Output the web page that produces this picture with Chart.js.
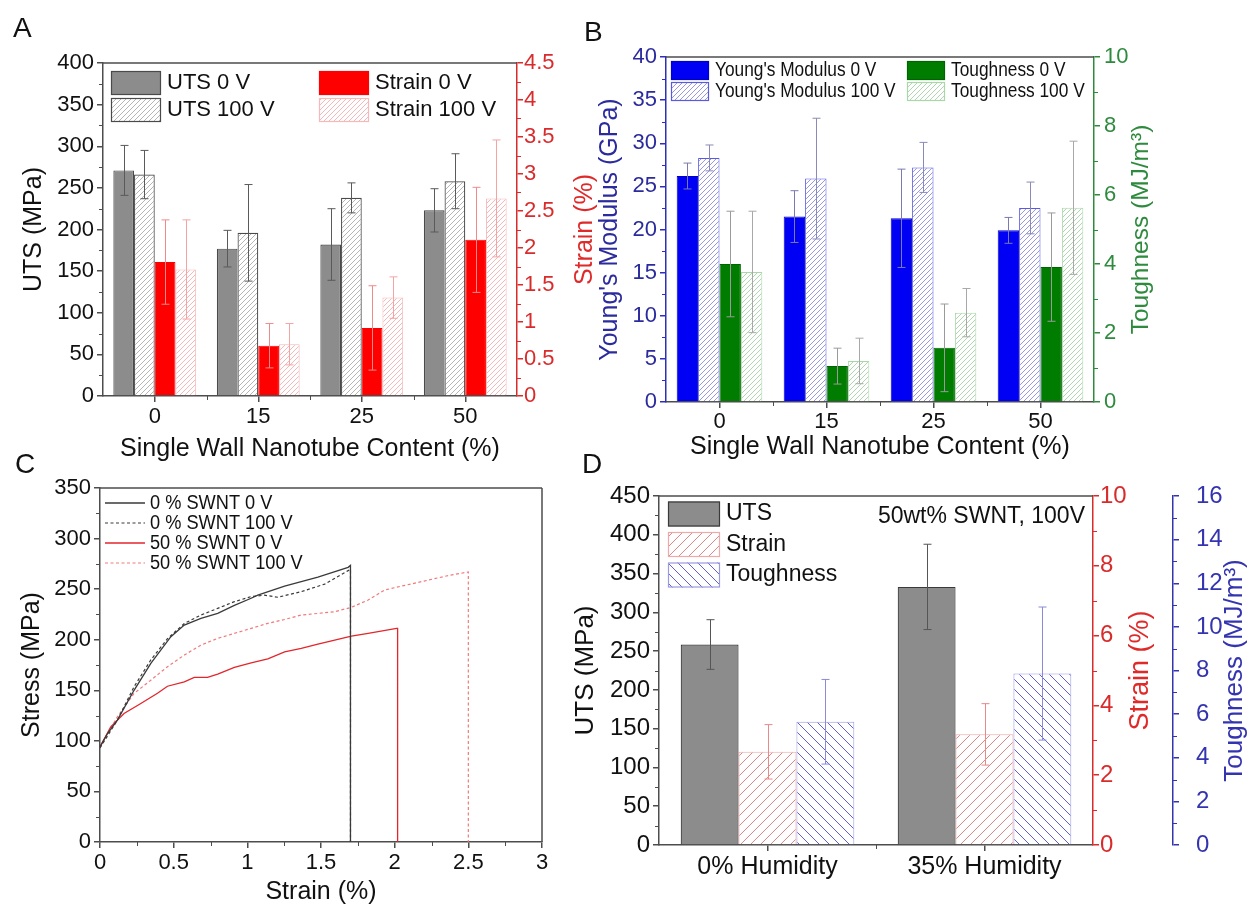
<!DOCTYPE html>
<html>
<head>
<meta charset="utf-8">
<title>SWNT fibre mechanics</title>
<script src="https://cdn.jsdelivr.net/npm/chart.js@4.4.1/dist/chart.umd.min.js"></script>
<style>
  body { margin: 0; background: #fff; font-family: "Liberation Sans", Arial, sans-serif; }
  #page { position: relative; width: 1252px; height: 907px; overflow: hidden; background: #fff; }
  canvas { position: absolute; }
  .panel { position: absolute; font-size: 28px; line-height: 28px; color: #111; }
</style>
</head>
<body>
<div id="page">
  <canvas id="chartA" width="620" height="470" style="left:0;top:0"></canvas>
  <canvas id="chartB" width="667" height="470" style="left:585px;top:0"></canvas>
  <canvas id="chartC" width="600" height="457" style="left:0;top:450px"></canvas>
  <canvas id="chartD" width="697" height="457" style="left:555px;top:450px"></canvas>
  <div class="panel" style="left:13px;top:14px">A</div>
  <div class="panel" style="left:584px;top:18px">B</div>
  <div class="panel" style="left:15px;top:450px">C</div>
  <div class="panel" style="left:582px;top:450px">D</div>
</div>
<script>
// SWNT loading (wt%) for panels A and B
const swntContent = ['0', '15', '25', '50'];

// A: ultimate tensile strength (MPa) and strain at break (%)
const utsOff = [271, 177, 182, 223];
const utsOffErr = [30, 22, 43, 26];
const utsOn = [266, 196, 238, 258];
const utsOnErr = [29, 58, 18, 33];
const strainOff = [1.81, 0.68, 0.92, 2.11];
const strainOffErr = [0.57, 0.30, 0.57, 0.71];
const strainOn = [1.71, 0.70, 1.33, 2.67];
const strainOnErr = [0.67, 0.28, 0.28, 0.79];

// B: Young's modulus (GPa) and toughness (MJ/m3)
const modulusOff = [26.2, 21.5, 21.3, 19.9];
const modulusOffErr = [1.5, 3.0, 5.7, 1.5];
const modulusOn = [28.3, 25.9, 27.2, 22.5];
const modulusOnErr = [1.5, 7.0, 2.9, 3.0];
const toughOff = [4.0, 1.04, 1.57, 3.91];
const toughOffErr = [1.53, 0.52, 1.27, 1.57];
const toughOn = [3.77, 1.19, 2.59, 5.63];
const toughOnErr = [1.76, 0.66, 0.70, 1.93];

// C: stress-strain curves (strain %, stress MPa)
const strain0Off = [0, 0.05, 0.118, 0.231, 0.345, 0.481, 0.572, 0.685, 0.799, 0.912, 1.026, 1.071, 1.253, 1.479, 1.684, 1.70, 1.70];
const stress0Off = [94, 107, 120.5, 150, 176.6, 203, 214.5, 221, 226, 234, 241, 244, 253, 262, 271.6, 273.5, 0];
const strain0On = [0, 0.118, 0.231, 0.345, 0.458, 0.572, 0.685, 0.799, 0.912, 1.026, 1.116, 1.207, 1.366, 1.525, 1.684, 1.70, 1.70];
const stress0On = [93, 120.5, 153.5, 180, 201, 216, 224.4, 231, 237.6, 242.6, 244, 242, 247.5, 255, 268.3, 269.5, 0];
const strain50Off = [0, 0.073, 0.163, 0.277, 0.39, 0.458, 0.572, 0.64, 0.73, 0.799, 0.912, 1.026, 1.139, 1.253, 1.366, 1.479, 1.593, 1.706, 1.82, 2.013, 2.02, 2.02];
const stress50Off = [94, 113.9, 127, 137, 147, 154, 158.4, 162.7, 162.7, 166, 172.6, 177.2, 181, 188, 191.4, 195.7, 199.7, 203.6, 206.3, 211.2, 211.2, 0];
const strain50On = [0, 0.118, 0.231, 0.345, 0.458, 0.572, 0.685, 0.799, 0.912, 1.026, 1.139, 1.253, 1.366, 1.479, 1.593, 1.706, 1.82, 1.933, 2.047, 2.2, 2.35, 2.5, 2.5];
const stress50On = [94, 123.8, 146.9, 160, 173.3, 184.8, 194.7, 201.3, 206.3, 211.2, 216.2, 220, 224.4, 226, 227.7, 232, 239.3, 249.2, 253, 258, 263, 267, 0];

// D: 50wt% SWNT spun at 100 V, dry vs humid
const humidity = ['0% Humidity', '35% Humidity'];
const utsHum = [258.5, 332.8];
const utsHumErr = [32, 55];
const strainHum = [2.67, 3.17];
const strainHumErr = [0.78, 0.88];
const toughHum = [5.65, 7.86];
const toughHumErr = [1.94, 3.05];

Chart.defaults.font.family = '"Liberation Sans", Arial, sans-serif';
Chart.defaults.color = '#111';
Chart.defaults.animation = false;
Chart.defaults.responsive = false;
Chart.defaults.devicePixelRatio = 1;
Chart.defaults.plugins.legend.display = false;
Chart.defaults.plugins.tooltip.enabled = false;

const RED = '#d92b2b';
const GREY = '#4d4d4d';

// diagonal hatch fill
function hatch(ctx, color, size, dir, width) {
  const c = document.createElement('canvas');
  c.width = size;
  c.height = size;
  const g = c.getContext('2d');
  g.fillStyle = '#fff';
  g.fillRect(0, 0, size, size);
  g.strokeStyle = color;
  g.lineWidth = width;
  g.beginPath();
  if (dir === '/') {
    g.moveTo(0, size); g.lineTo(size, 0);
    g.moveTo(-1, 1); g.lineTo(1, -1);
    g.moveTo(size - 1, size + 1); g.lineTo(size + 1, size - 1);
  } else {
    g.moveTo(0, 0); g.lineTo(size, size);
    g.moveTo(-1, size - 1); g.lineTo(1, size + 1);
    g.moveTo(size - 1, -1); g.lineTo(size + 1, 1);
  }
  g.stroke();
  return ctx.createPattern(c, 'repeat');
}

function pts(xs, ys) {
  return xs.map((x, i) => ({ x: x, y: ys[i] }));
}

// plain numbers on the axes: 4 rather than 4.0
function plainTick(v) {
  return String(Math.round(v * 100) / 100);
}

function valueAxis(o) {
  return {
    type: 'linear',
    position: o.position,
    min: o.min,
    max: o.max,
    weight: o.weight || 0,
    grid: { drawOnChartArea: false, tickLength: 6, color: o.color, lineWidth: 1.5 },
    border: { color: o.color, width: 1.5 },
    ticks: { stepSize: o.step, color: o.tickColor || o.color, font: { size: o.size }, padding: o.pad, callback: plainTick },
    title: o.title
      ? { display: true, text: o.title, color: o.titleColor || '#111', font: { size: o.titleSize }, padding: { top: o.titlePad, bottom: 0 } }
      : { display: false },
    afterFit: s => { s.width = o.width; }
  };
}

function categoryAxis(o) {
  return {
    type: 'category',
    offset: true,
    grid: { offset: false, drawOnChartArea: false, tickLength: 6, color: o.color, lineWidth: 1.5 },
    border: { color: o.color, width: 1.5 },
    ticks: { color: '#111', font: { size: o.size }, padding: o.pad, autoSkip: false, maxRotation: 0 },
    title: o.title
      ? { display: true, text: o.title, color: '#111', font: { size: o.titleSize }, padding: { top: 0, bottom: o.titlePad } }
      : { display: false },
    afterFit: s => { s.height = o.height; }
  };
}

// symmetric error bars from dataset.errors
const errorBars = {
  id: 'errorBars',
  afterDatasetsDraw(chart) {
    const ctx = chart.ctx;
    chart.data.datasets.forEach((ds, i) => {
      if (!ds.errors) return;
      const meta = chart.getDatasetMeta(i);
      const yScale = chart.scales[meta.yAxisID];
      ctx.save();
      ctx.strokeStyle = ds.errorColor;
      ctx.lineWidth = 1;
      ctx.beginPath();
      meta.data.forEach((bar, j) => {
        const top = yScale.getPixelForValue(ds.data[j] + ds.errors[j]);
        const bot = yScale.getPixelForValue(ds.data[j] - ds.errors[j]);
        const x = Math.round(bar.x) + 0.5;
        ctx.moveTo(x, top); ctx.lineTo(x, bot);
        ctx.moveTo(x - 4, top); ctx.lineTo(x + 4, top);
        ctx.moveTo(x - 4, bot); ctx.lineTo(x + 4, bot);
      });
      ctx.stroke();
      ctx.restore();
    });
  }
};

// short unlabelled ticks between the labelled ones
const minorTicks = {
  id: 'minorTicks',
  afterDraw(chart, args, opts) {
    const ctx = chart.ctx;
    (opts.axes || []).forEach(a => {
      const s = chart.scales[a.id];
      const vals = [];
      if (a.between) {
        for (let i = 0; i < chart.data.labels.length - 1; i++) vals.push(i + 0.5);
      } else {
        const n = Math.round((s.max - s.min) / a.step);
        for (let k = 1; k < n; k++) {
          const v = s.min + k * a.step;
          const r = v / a.major;
          if (Math.abs(r - Math.round(r)) > 1e-6) vals.push(v);
        }
      }
      ctx.save();
      ctx.strokeStyle = a.color;
      ctx.lineWidth = 1;
      ctx.beginPath();
      vals.forEach(v => {
        const p = Math.round(s.getPixelForValue(v)) + 0.5;
        if (s.position === 'left') { ctx.moveTo(s.right, p); ctx.lineTo(s.right - 4, p); }
        else if (s.position === 'right') { ctx.moveTo(s.left, p); ctx.lineTo(s.left + 4, p); }
        else { ctx.moveTo(p, s.top); ctx.lineTo(p, s.top + 4); }
      });
      ctx.stroke();
      ctx.restore();
    });
  }
};

// closing lines of the plot box
const frame = {
  id: 'frame',
  afterDraw(chart, args, opts) {
    const { left, right, top, bottom } = chart.chartArea;
    const ctx = chart.ctx;
    ctx.save();
    ctx.strokeStyle = opts.color;
    ctx.lineWidth = 1.5;
    ctx.beginPath();
    ctx.moveTo(left, top); ctx.lineTo(right, top);
    if (opts.right) { ctx.moveTo(right, top); ctx.lineTo(right, bottom); }
    ctx.stroke();
    ctx.restore();
  }
};

// legend placed inside the plot area
const boxLegend = {
  id: 'boxLegend',
  afterDraw(chart, args, opts) {
    if (!opts.items) return;
    const ctx = chart.ctx;
    const area = chart.chartArea;
    ctx.save();
    ctx.font = opts.fontSize + 'px "Liberation Sans", Arial, sans-serif';
    ctx.textBaseline = 'middle';
    opts.items.forEach(it => {
      const ds = chart.data.datasets[it.ds];
      const x = area.left + it.dx;
      const y = area.top + it.dy;
      if (opts.lines) {
        ctx.strokeStyle = ds.borderColor;
        ctx.lineWidth = ds.borderWidth;
        ctx.setLineDash(ds.borderDash || []);
        ctx.beginPath();
        ctx.moveTo(x, y); ctx.lineTo(x + opts.boxW, y);
        ctx.stroke();
        ctx.setLineDash([]);
      } else {
        ctx.fillStyle = ds.backgroundColor;
        ctx.fillRect(x, y - opts.boxH / 2, opts.boxW, opts.boxH);
        ctx.strokeStyle = ds.borderColor;
        ctx.lineWidth = 1.2;
        ctx.strokeRect(x + 0.5, y - opts.boxH / 2 + 0.5, opts.boxW - 1, opts.boxH - 1);
      }
      ctx.fillStyle = '#111';
      ctx.save();
      ctx.translate(x + opts.boxW + opts.gap, y);
      ctx.scale(opts.squeeze || 1, 1);
      ctx.fillText(ds.label, 0, 0);
      ctx.restore();
    });
    if (opts.note) {
      ctx.textAlign = 'right';
      ctx.fillStyle = '#111';
      ctx.fillText(opts.note, area.right - opts.noteDx, area.top + opts.noteDy);
    }
    ctx.restore();
  }
};

// right-hand axis titles, read bottom to top
const sideTitles = {
  id: 'sideTitles',
  afterDraw(chart, args, opts) {
    const ctx = chart.ctx;
    (opts.items || []).forEach(t => {
      const s = chart.scales[t.axis];
      ctx.save();
      ctx.translate(s.left + t.offset, (s.top + s.bottom) / 2);
      ctx.rotate(-Math.PI / 2);
      ctx.font = t.size + 'px "Liberation Sans", Arial, sans-serif';
      ctx.fillStyle = t.color;
      ctx.textAlign = 'center';
      ctx.textBaseline = 'middle';
      ctx.fillText(t.text, 0, 0);
      ctx.restore();
    });
  }
};

const panelPlugins = [errorBars, minorTicks, frame, boxLegend, sideTitles];

// ---------- A ----------
const ctxA = document.getElementById('chartA').getContext('2d');
new Chart(ctxA, {
  type: 'bar',
  data: {
    labels: swntContent,
    datasets: [
      { label: 'UTS 0 V', data: utsOff, errors: utsOffErr, errorColor: '#5a5a5a', yAxisID: 'y',
        backgroundColor: '#8c8c8c', borderColor: '#4a4a4a', borderWidth: 1.2 },
      { label: 'UTS 100 V', data: utsOn, errors: utsOnErr, errorColor: '#5a5a5a', yAxisID: 'y',
        backgroundColor: hatch(ctxA, '#959595', 5, '/', 0.7), borderColor: '#4a4a4a', borderWidth: 1.2 },
      { label: 'Strain 0 V', data: strainOff, errors: strainOffErr, errorColor: '#f08a8a', yAxisID: 'yR',
        backgroundColor: '#ff0000', borderColor: '#ff0000', borderWidth: 1 },
      { label: 'Strain 100 V', data: strainOn, errors: strainOnErr, errorColor: '#f4a4a4', yAxisID: 'yR',
        backgroundColor: hatch(ctxA, '#f2a4a4', 5, '/', 0.8), borderColor: '#f6b8b8', borderWidth: 1 }
    ]
  },
  options: {
    layout: { padding: { left: 0, right: 0, top: 63, bottom: 0 } },
    datasets: { bar: { barPercentage: 1, categoryPercentage: 0.8 } },
    scales: {
      x: categoryAxis({ color: GREY, size: 22, pad: 2, height: 74,
        title: 'Single Wall Nanotube Content (%)', titleSize: 25, titlePad: 6 }),
      y: valueAxis({ position: 'left', min: 0, max: 400, step: 50, color: GREY, tickColor: '#111',
        size: 22, pad: 3, width: 103, title: 'UTS (MPa)', titleSize: 25, titlePad: 19 }),
      yR: valueAxis({ position: 'right', min: 0, max: 4.5, step: 0.5, color: RED,
        size: 22, pad: 1, width: 103 })
    },
    plugins: {
      minorTicks: { axes: [
        { id: 'y', step: 25, major: 50, color: GREY },
        { id: 'yR', step: 0.25, major: 0.5, color: RED },
        { id: 'x', between: true, color: GREY }
      ] },
      frame: { color: GREY },
      boxLegend: { fontSize: 22, boxW: 50, boxH: 24, gap: 6, items: [
        { ds: 0, dx: 8, dy: 20 }, { ds: 1, dx: 8, dy: 47 },
        { ds: 2, dx: 216, dy: 20 }, { ds: 3, dx: 216, dy: 47 }
      ] },
      sideTitles: { items: [{ axis: 'yR', offset: 68.5, text: 'Strain (%)', color: '#e02a2a', size: 25 }] }
    }
  },
  plugins: panelPlugins
});

// ---------- B ----------
const BLUE = '#2e2eb8';
const GREEN = '#2e8b3e';
const ctxB = document.getElementById('chartB').getContext('2d');
new Chart(ctxB, {
  type: 'bar',
  data: {
    labels: swntContent,
    datasets: [
      { label: "Young's Modulus 0 V", data: modulusOff, errors: modulusOffErr, errorColor: '#7a7ab0', yAxisID: 'y',
        backgroundColor: '#0000f5', borderColor: '#0000c8', borderWidth: 1 },
      { label: "Young's Modulus 100 V", data: modulusOn, errors: modulusOnErr, errorColor: '#8a8ab8', yAxisID: 'y',
        backgroundColor: hatch(ctxB, '#7c7cdc', 5, '/', 0.8), borderColor: '#5a5ae0', borderWidth: 1 },
      { label: 'Toughness 0 V', data: toughOff, errors: toughOffErr, errorColor: '#9a9a9a', yAxisID: 'yR',
        backgroundColor: '#007d00', borderColor: '#006400', borderWidth: 1 },
      { label: 'Toughness 100 V', data: toughOn, errors: toughOnErr, errorColor: '#a8a8a8', yAxisID: 'yR',
        backgroundColor: hatch(ctxB, '#9ccc9c', 5, '/', 0.8), borderColor: '#a8d8a8', borderWidth: 1 }
    ]
  },
  options: {
    layout: { padding: { left: 0, right: 0, top: 57, bottom: 0 } },
    datasets: { bar: { barPercentage: 1, categoryPercentage: 0.8 } },
    scales: {
      x: categoryAxis({ color: GREY, size: 22, pad: 1, height: 68,
        title: 'Single Wall Nanotube Content (%)', titleSize: 25, titlePad: 8 }),
      y: valueAxis({ position: 'left', min: 0, max: 40, step: 5, color: BLUE, tickColor: '#2b2b9e',
        size: 22, pad: 3, width: 81, title: "Young's Modulus (GPa)", titleColor: '#2b2b9e', titleSize: 25, titlePad: 10 }),
      yR: valueAxis({ position: 'right', min: 0, max: 10, step: 2, color: GREEN,
        size: 22, pad: 4, width: 158 })
    },
    plugins: {
      minorTicks: { axes: [
        { id: 'y', step: 2.5, major: 5, color: BLUE },
        { id: 'yR', step: 1, major: 2, color: GREEN },
        { id: 'x', between: true, color: GREY }
      ] },
      frame: { color: GREY },
      boxLegend: { fontSize: 20, squeeze: 0.865, boxW: 38, boxH: 19, gap: 6, items: [
        { ds: 0, dx: 5, dy: 13.5 }, { ds: 1, dx: 5, dy: 34.5 },
        { ds: 2, dx: 241, dy: 13.5 }, { ds: 3, dx: 241, dy: 34.5 }
      ] },
      sideTitles: { items: [{ axis: 'yR', offset: 47, text: 'Toughness (MJ/m\u00b3)', color: GREEN, size: 24.5 }] }
    }
  },
  plugins: panelPlugins
});

// ---------- C ----------
const ctxC = document.getElementById('chartC').getContext('2d');
new Chart(ctxC, {
  type: 'line',
  data: {
    datasets: [
      { label: '0 % SWNT 0 V', data: pts(strain0Off, stress0Off), borderColor: '#3a3a3a', borderWidth: 1.3 },
      { label: '0 % SWNT 100 V', data: pts(strain0On, stress0On), borderColor: '#3a3a3a', borderWidth: 1.2, borderDash: [3, 2.5] },
      { label: '50 % SWNT 0 V', data: pts(strain50Off, stress50Off), borderColor: '#e3262b', borderWidth: 1.3 },
      { label: '50 % SWNT 100 V', data: pts(strain50On, stress50On), borderColor: '#f07a7a', borderWidth: 1.2, borderDash: [3, 2.5] }
    ]
  },
  options: {
    layout: { padding: { left: 0, right: 58, top: 38, bottom: 0 } },
    elements: { point: { radius: 0 }, line: { tension: 0 } },
    scales: {
      x: Object.assign(valueAxis({ position: 'bottom', min: 0, max: 3, step: 0.5, color: GREY, tickColor: '#111',
        size: 22, pad: 2 }), {
        title: { display: true, text: 'Strain (%)', color: '#111', font: { size: 25 }, padding: { top: 0, bottom: 0 } },
        afterFit: s => { s.height = 65; }
      }),
      y: valueAxis({ position: 'left', min: 0, max: 350, step: 50, color: GREY, tickColor: '#111',
        size: 22, pad: 3, width: 100, title: 'Stress (MPa)', titleSize: 25, titlePad: 17.5 })
    },
    plugins: {
      minorTicks: { axes: [
        { id: 'y', step: 25, major: 50, color: GREY },
        { id: 'x', step: 0.25, major: 0.5, color: GREY }
      ] },
      frame: { color: GREY, right: true },
      boxLegend: { lines: true, fontSize: 20, squeeze: 0.91, boxW: 40, gap: 5, items: [
        { ds: 0, dx: 5, dy: 15 }, { ds: 1, dx: 5, dy: 35 },
        { ds: 2, dx: 5, dy: 55 }, { ds: 3, dx: 5, dy: 75 }
      ] }
    }
  },
  plugins: panelPlugins
});

// ---------- D ----------
const NAVY = '#3434b0';
const ctxD = document.getElementById('chartD').getContext('2d');
new Chart(ctxD, {
  type: 'bar',
  data: {
    labels: humidity,
    datasets: [
      { label: 'UTS', data: utsHum, errors: utsHumErr, errorColor: '#555', yAxisID: 'y',
        backgroundColor: '#8c8c8c', borderColor: '#3a3a3a', borderWidth: 1.2 },
      { label: 'Strain', data: strainHum, errors: strainHumErr, errorColor: '#e88a8a', yAxisID: 'yS',
        backgroundColor: hatch(ctxD, '#e48484', 10, '/', 1), borderColor: '#f0a8a8', borderWidth: 1 },
      { label: 'Toughness', data: toughHum, errors: toughHumErr, errorColor: '#8a8ad8', yAxisID: 'yT',
        backgroundColor: hatch(ctxD, '#5c5ce8', 10, '\\', 1), borderColor: '#9a9ae0', borderWidth: 1 }
    ]
  },
  options: {
    layout: { padding: { left: 0, right: 0, top: 46, bottom: 0 } },
    datasets: { bar: { barPercentage: 1, categoryPercentage: 0.8 } },
    scales: {
      x: categoryAxis({ color: GREY, size: 25, pad: 1, height: 62 }),
      y: valueAxis({ position: 'left', min: 0, max: 450, step: 50, color: GREY, tickColor: '#111',
        size: 24, pad: 3, width: 104, title: 'UTS (MPa)', titleSize: 26, titlePad: 15 }),
      yS: valueAxis({ position: 'right', weight: 0, min: 0, max: 10, step: 2, color: RED,
        size: 24, pad: 1, width: 80 }),
      yT: valueAxis({ position: 'right', weight: 1, min: 0, max: 16, step: 2, color: NAVY,
        size: 24, pad: 17, width: 79 })
    },
    plugins: {
      minorTicks: { axes: [
        { id: 'y', step: 25, major: 50, color: GREY },
        { id: 'yS', step: 1, major: 2, color: RED },
        { id: 'yT', step: 1, major: 2, color: NAVY },
        { id: 'x', between: true, color: GREY }
      ] },
      frame: { color: GREY },
      boxLegend: { fontSize: 23, boxW: 52, boxH: 25, gap: 6, items: [
        { ds: 0, dx: 9, dy: 18 }, { ds: 1, dx: 9, dy: 48.5 }, { ds: 2, dx: 9, dy: 79 }
      ], note: '50wt% SWNT, 100V', noteDx: 8, noteDy: 21 },
      sideTitles: { items: [
        { axis: 'yS', offset: 48, text: 'Strain (%)', color: '#e02a2a', size: 27 },
        { axis: 'yT', offset: 62, text: 'Toughness (MJ/m\u00b3)', color: NAVY, size: 26 }
      ] }
    }
  },
  plugins: panelPlugins
});
</script>
</body>
</html>
